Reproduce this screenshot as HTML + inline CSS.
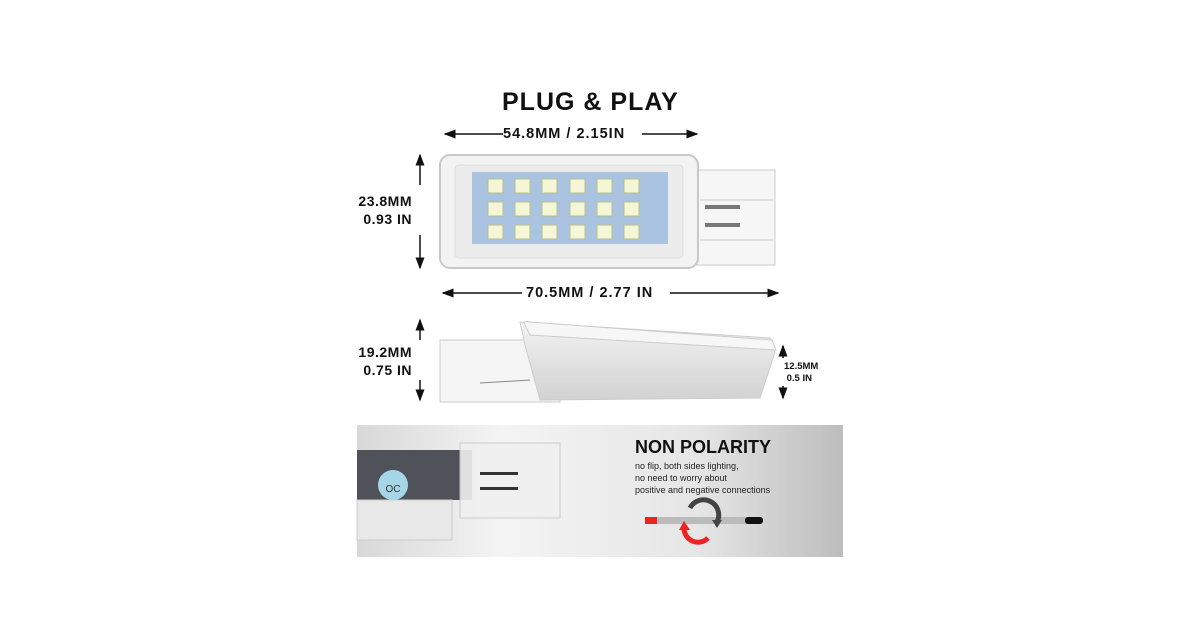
<!DOCTYPE html>
<html><head><style>
body{margin:0;width:1200px;height:630px;background:#fff;position:relative;overflow:hidden;font-family:"Liberation Sans",sans-serif;color:#111}
.t{position:absolute;font-weight:bold;white-space:nowrap}
</style></head><body>
<div class="t" style="left:502px;top:88px;font-size:25px;letter-spacing:1px">PLUG &amp; PLAY</div>
<svg width="1200" height="630" style="position:absolute;left:0;top:0">
<defs>
<marker id="a" markerWidth="8" markerHeight="8" refX="7" refY="4" orient="auto"><path d="M0,1 L8,4 L0,7Z" fill="#111"/></marker>
<linearGradient id="bg" x1="0" x2="1"><stop offset="0" stop-color="#d8d8d8"/><stop offset="0.3" stop-color="#f4f4f4"/><stop offset="0.7" stop-color="#e6e6e6"/><stop offset="1" stop-color="#bdbdbd"/></linearGradient>
<linearGradient id="met" x1="0" y1="0" x2="0" y2="1"><stop offset="0" stop-color="#f2f2f2"/><stop offset="1" stop-color="#d2d2d2"/></linearGradient>
</defs>
<line x1="503" y1="134" x2="445" y2="134" stroke="#111" stroke-width="1.5" marker-end="url(#a)"/>
<line x1="642" y1="134" x2="697" y2="134" stroke="#111" stroke-width="1.5" marker-end="url(#a)"/>
<line x1="420" y1="185" x2="420" y2="155" stroke="#111" stroke-width="1.5" marker-end="url(#a)"/>
<line x1="420" y1="235" x2="420" y2="268" stroke="#111" stroke-width="1.5" marker-end="url(#a)"/>
<line x1="522" y1="293" x2="443" y2="293" stroke="#111" stroke-width="1.5" marker-end="url(#a)"/>
<line x1="670" y1="293" x2="778" y2="293" stroke="#111" stroke-width="1.5" marker-end="url(#a)"/>
<line x1="420" y1="340" x2="420" y2="320" stroke="#111" stroke-width="1.5" marker-end="url(#a)"/>
<line x1="420" y1="380" x2="420" y2="400" stroke="#111" stroke-width="1.5" marker-end="url(#a)"/>
<line x1="783" y1="358" x2="783" y2="346" stroke="#111" stroke-width="1.5" marker-end="url(#a)"/>
<line x1="783" y1="386" x2="783" y2="398" stroke="#111" stroke-width="1.5" marker-end="url(#a)"/>
<rect x="697" y="170" width="78" height="95" fill="#f6f6f6" stroke="#ccc"/>
<line x1="700" y1="200" x2="773" y2="200" stroke="#ccc"/>
<line x1="700" y1="240" x2="773" y2="240" stroke="#ccc"/>
<rect x="705" y="205" width="35" height="4" fill="#777"/>
<rect x="705" y="223" width="35" height="4" fill="#777"/>
<rect x="440" y="155" width="258" height="113" rx="10" fill="#f3f3f3" stroke="#c8c8c8" stroke-width="2"/>
<rect x="455" y="165" width="228" height="93" rx="4" fill="#ececec" stroke="#ddd"/>
<rect x="472" y="172" width="196" height="72" fill="#a9c3e0"/>
<g fill="#f4f6d6" stroke="#b7c28a">
<rect x="488" y="179" width="15" height="14"/><rect x="515" y="179" width="15" height="14"/><rect x="542" y="179" width="15" height="14"/><rect x="570" y="179" width="15" height="14"/><rect x="597" y="179" width="15" height="14"/><rect x="624" y="179" width="15" height="14"/>
<rect x="488" y="202" width="15" height="14"/><rect x="515" y="202" width="15" height="14"/><rect x="542" y="202" width="15" height="14"/><rect x="570" y="202" width="15" height="14"/><rect x="597" y="202" width="15" height="14"/><rect x="624" y="202" width="15" height="14"/>
<rect x="488" y="225" width="15" height="14"/><rect x="515" y="225" width="15" height="14"/><rect x="542" y="225" width="15" height="14"/><rect x="570" y="225" width="15" height="14"/><rect x="597" y="225" width="15" height="14"/><rect x="624" y="225" width="15" height="14"/>
</g>
<rect x="440" y="340" width="120" height="62" fill="#f5f5f5" stroke="#ccc"/>
<polygon points="520,322 770,338 775,352 760,398 540,400 525,345" fill="url(#met)" stroke="#ccc"/>
<path d="M525,325 Q522,320 530,322 L772,340 L776,350 L530,335Z" fill="#f7f7f7" stroke="#ccc"/>
<line x1="480" y1="383" x2="530" y2="380" stroke="#888"/>
<rect x="357" y="425" width="486" height="132" fill="url(#bg)"/>
<rect x="357" y="450" width="115" height="50" fill="#4f5258"/>
<rect x="357" y="500" width="95" height="40" fill="#e8e8e8" stroke="#ccc"/>
<rect x="460" y="443" width="100" height="75" fill="#f0f0f0" stroke="#c8c8c8" opacity="0.9"/>
<rect x="480" y="472" width="38" height="3" fill="#333"/>
<rect x="480" y="487" width="38" height="3" fill="#333"/>
<circle cx="393" cy="485" r="15" fill="#a7d5e8"/>
<text x="393" y="492" font-size="10" text-anchor="middle" fill="#333" font-family="Liberation Sans">OC</text>
<rect x="645" y="517" width="118" height="7" rx="3" fill="#bbb"/>
<rect x="645" y="517" width="12" height="7" fill="#e22"/>
<rect x="745" y="517" width="18" height="7" rx="3" fill="#111"/>
<path d="M690,508 A14,14 0 0 1 717,522" fill="none" stroke="#444" stroke-width="5"/>
<path d="M712,520 L722,520 L717,528Z" fill="#444"/>
<path d="M708,538 A14,14 0 0 1 684,528" fill="none" stroke="#e22" stroke-width="5"/>
<path d="M679,530 L690,530 L684,521Z" fill="#e22"/>
</svg>
<div class="t" style="left:503px;top:126px;font-size:14.5px;letter-spacing:1px">54.8MM / 2.15IN</div>
<div class="t" style="left:356px;top:192px;font-size:14px;width:56px;text-align:right;line-height:18px;letter-spacing:0.5px">23.8MM<br>0.93 IN</div>
<div class="t" style="left:526px;top:285px;font-size:14.5px;letter-spacing:1px">70.5MM / 2.77 IN</div>
<div class="t" style="left:356px;top:343px;font-size:14px;width:56px;text-align:right;line-height:18px;letter-spacing:0.5px">19.2MM<br>0.75 IN</div>
<div class="t" style="left:784px;top:361px;font-size:9.5px;line-height:12px">12.5MM<br>&nbsp;0.5 IN</div>
<div class="t" style="left:635px;top:437px;font-size:18px">NON POLARITY</div>
<div style="position:absolute;left:635px;top:460px;font-size:9px;line-height:12px;color:#222">no flip, both sides lighting,<br>no need to worry about<br>positive and negative connections</div>
</body></html>
